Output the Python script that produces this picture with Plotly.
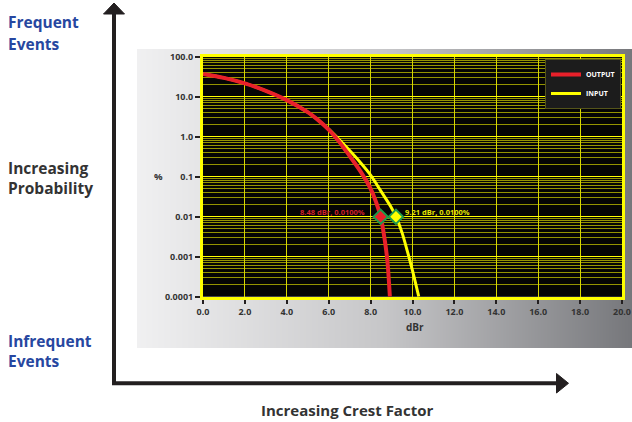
import math
import plotly.graph_objects as go

# ---------------- data ----------------
output_dbr = [0, 1, 2, 3, 4, 5, 5.5, 6, 6.5, 7, 7.5, 8, 8.25, 8.48, 8.65, 8.8, 8.92]
output_pct = [37, 29.5, 21.5, 14, 8.2, 4.1, 2.6, 1.5, 0.75, 0.33, 0.14, 0.05, 0.024,
              0.0100, 0.0032, 0.0008, 0.0001]

input_dbr = [0, 1, 2, 3, 4, 5, 5.5, 6, 6.5, 7, 7.5, 8, 8.3, 8.5, 9, 9.21, 9.5, 9.75, 10, 10.3]
input_pct = [37, 29.5, 21.5, 14, 8.2, 4.1, 2.6, 1.55, 0.85, 0.45, 0.23, 0.11, 0.063,
             0.043, 0.0166, 0.0100, 0.004, 0.0014, 0.00045, 0.0001]

marker_dbr = [8.48, 9.21]
marker_pct = [0.0100, 0.0100]

x_ticks = [0, 2, 4, 6, 8, 10, 12, 14, 16, 18, 20]
x_tick_labels = ["0.0", "2.0", "4.0", "6.0", "8.0", "10.0", "12.0", "14.0", "16.0", "18.0", "20.0"]
y_ticks = [0.0001, 0.001, 0.01, 0.1, 1, 10, 100]
y_tick_labels = ["0.0001", "0.001", "0.01", "0.1", "1.0", "10.0", "100.0"]

# ---------------- layout constants ----------------
W, H = 632, 422
FONT = "Open Sans"
RED = "#e8202a"
YEL = "#ffff00"
GREEN = "#1e9a4a"
DARK = "#231f20"
BLUE = "#2747a0"


def px(x):
    return x / W


def py(y):
    return 1 - y / H


minor_vals = [k * 10 ** e for e in range(-4, 2) for k in range(2, 10)]

fig = go.Figure()

# background gradient panel (first subplot, drawn underneath)
fig.add_trace(go.Heatmap(
    z=[[0, 0.5, 1], [0, 0.5, 1]], x=[0, 0.5, 1], y=[0, 1],
    colorscale=[[0, "#f0f0f1"], [0.5, "#c6c6c8"], [1, "#76777b"]],
    zsmooth="best", showscale=False, hoverinfo="skip",
    xaxis="x", yaxis="y",
))

# curves: input (yellow) first so output (red) is on top
fig.add_trace(go.Scatter(
    x=input_dbr, y=input_pct, mode="lines", name="INPUT",
    line=dict(color=YEL, width=3, shape="spline", smoothing=0.8),
    xaxis="x2", yaxis="y2", legendrank=2,
))
fig.add_trace(go.Scatter(
    x=output_dbr, y=output_pct, mode="lines", name="OUTPUT",
    line=dict(color=RED, width=4, shape="spline", smoothing=0.8),
    xaxis="x2", yaxis="y2", legendrank=1,
))
fig.add_trace(go.Scatter(
    x=marker_dbr, y=marker_pct, mode="markers", showlegend=False,
    marker=dict(symbol="diamond", size=11, color=[RED, YEL],
                line=dict(color=GREEN, width=2)),
    xaxis="x2", yaxis="y2",
))

# marker labels
label_colors = ["#d0202a", "#e6e600"]
for i, (d, p) in enumerate(zip(marker_dbr, marker_pct)):
    left = i == 0
    fig.add_annotation(
        x=d, y=math.log10(p), xref="x2", yref="y2",
        text=f"{d:.2f} dBr, {p:.4f}%", showarrow=False,
        xanchor="right" if left else "left", yanchor="middle",
        xshift=-14 if left else 7, yshift=5,
        font=dict(family=FONT, size=7.5, color=label_colors[i], weight="bold"),
    )

# axis titles
fig.add_annotation(x=px(158), y=py(177), xref="paper", yref="paper", text="%",
                   showarrow=False, xanchor="center", yanchor="middle",
                   font=dict(family=FONT, size=9.5, color="#333", weight="bold"))
fig.add_annotation(x=px(415), y=py(327), xref="paper", yref="paper", text="dBr",
                   showarrow=False, xanchor="center", yanchor="middle",
                   font=dict(family=FONT, size=10, color="#333", weight="bold"))

# side texts
side_texts = [("Frequent", 22, BLUE), ("Events", 43.5, BLUE),
              ("Increasing", 168, "#333333"), ("Probability", 187.5, "#333333"),
              ("Infrequent", 341, BLUE), ("Events", 361, BLUE)]
for t, yy, c in side_texts:
    fig.add_annotation(x=px(6), y=py(yy), xref="paper", yref="paper", text=t,
                       showarrow=False, xanchor="left", yanchor="middle",
                       font=dict(family=FONT, size=15.5, color=c, weight="bold"))
fig.add_annotation(x=px(347), y=py(410), xref="paper", yref="paper",
                   text="Increasing Crest Factor", showarrow=False,
                   xanchor="center", yanchor="middle",
                   font=dict(family=FONT, size=15, color="#333333", weight="bold"))

# arrows
fig.add_shape(type="line", xref="paper", yref="paper",
              x0=px(114), y0=py(385), x1=px(114), y1=py(12),
              line=dict(color=DARK, width=4))
fig.add_shape(type="path", xref="paper", yref="paper",
              path=f"M {px(103.5)},{py(14)} L {px(114)},{py(3)} L {px(124.5)},{py(14)} Z",
              fillcolor=DARK, line=dict(color=DARK, width=1))
fig.add_shape(type="line", xref="paper", yref="paper",
              x0=px(112), y0=py(383.3), x1=px(558), y1=py(383.3),
              line=dict(color=DARK, width=4))
fig.add_shape(type="path", xref="paper", yref="paper",
              path=f"M {px(556.5)},{py(373.5)} L {px(568.5)},{py(383.3)} L {px(556.5)},{py(393)} Z",
              fillcolor=DARK, line=dict(color=DARK, width=1))

tickfont = dict(family=FONT, size=9, color="#333333", weight="bold")

fig.update_layout(
    width=W, height=H, autosize=False,
    margin=dict(l=0, r=0, t=0, b=0),
    paper_bgcolor="white", plot_bgcolor="#050505",
    template="none",
    showlegend=True,
    legend=dict(
        x=px(621), y=py(59), xanchor="right", yanchor="top",
        bgcolor="#1c1c1c", bordercolor="#55551a", borderwidth=1,
        font=dict(family=FONT, size=7, color="white", weight="bold"),
        tracegroupgap=0,
    ),
    xaxis=dict(domain=[px(137), 1], range=[0, 1], visible=False, fixedrange=True),
    yaxis=dict(domain=[py(348), py(49)], range=[0, 1], visible=False, fixedrange=True),
    xaxis2=dict(
        domain=[px(203), px(622)], anchor="y2", range=[0, 20],
        tickmode="array", tickvals=x_ticks, ticktext=x_tick_labels,
        ticks="outside", ticklen=4, tickwidth=2, tickcolor=DARK,
        tickfont=tickfont, ticklabeloverflow="allow",
        showline=True, linecolor=YEL, linewidth=3, mirror=True,
        showgrid=True, gridcolor="#d8d800", gridwidth=1, zeroline=False,
        automargin=False,
    ),
    yaxis2=dict(
        domain=[py(296.7), py(56.7)], anchor="x2", type="log", range=[-4, 2],
        tickmode="array", tickvals=y_ticks, ticktext=y_tick_labels,
        ticks="outside", ticklen=5, tickwidth=2, tickcolor=DARK,
        tickfont=tickfont,
        showline=True, linecolor=YEL, linewidth=3, mirror=True,
        showgrid=True, gridcolor=YEL, gridwidth=1, zeroline=False,
        minor=dict(tickmode="array", tickvals=minor_vals, showgrid=True,
                   gridcolor="rgba(210,210,0,0.7)", gridwidth=1, ticks=""),
        automargin=False,
    ),
)

fig.write_html("out.html",
               config={"displayModeBar": False},
               post_script="document.body.style.margin='0';document.body.style.overflow='hidden';")
